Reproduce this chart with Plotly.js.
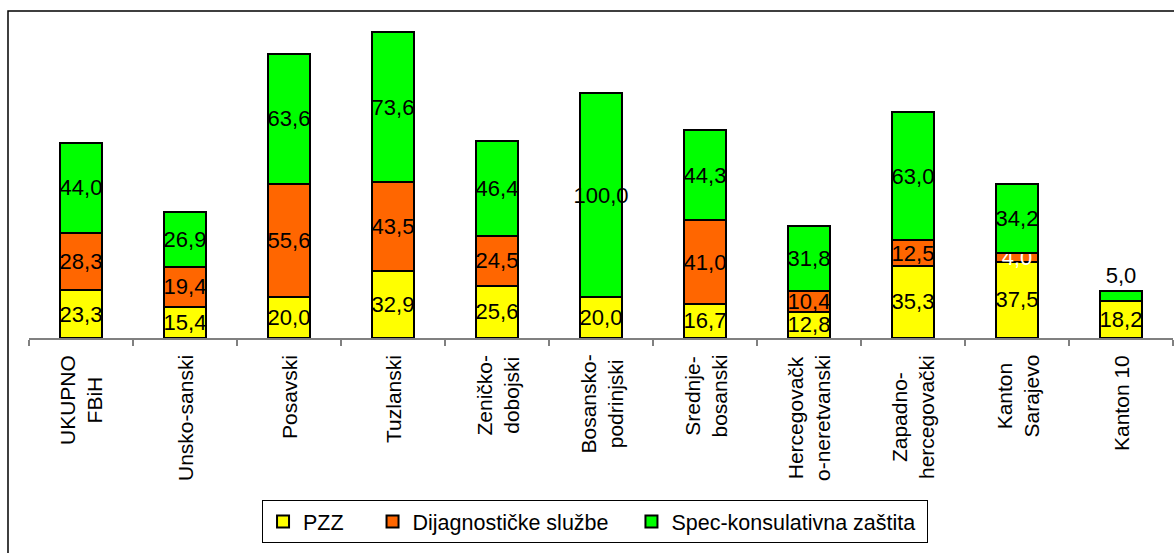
<!DOCTYPE html>
<html>
<head>
<meta charset="utf-8">
<script src="https://cdn.plot.ly/plotly-3.0.1.min.js"></script>
<style>
  html, body { margin: 0; padding: 0; background: #ffffff; }
  #chart { width: 1174px; height: 553px; }
</style>
</head>
<body>
<div id="chart"></div>
<script>
var categories = ['UKUPNO<br>FBiH', 'Unsko-sanski', 'Posavski', 'Tuzlanski', 'Zeničko-<br>dobojski',
  'Bosansko-<br>podrinjski', 'Srednje-<br>bosanski', 'Hercegovačk<br>o-neretvanski',
  'Zapadno-<br>hercegovački', 'Kanton<br>Sarajevo', 'Kanton 10'];
var pzz  = [23.3, 15.4, 20.0, 32.9, 25.6, 20.0, 16.7, 12.8, 35.3, 37.5, 18.2];
var dij  = [28.3, 19.4, 55.6, 43.5, 24.5, 0, 41.0, 10.4, 12.5, 4.0, 0];
var spec = [44.0, 26.9, 63.6, 73.6, 46.4, 100.0, 44.3, 31.8, 63.0, 34.2, 5.0];
var seriesNames = ['PZZ', 'Dijagnostičke službe', 'Spec-konsulativna zaštita'];

function fmt(v) { return v > 0 ? v.toFixed(1).replace('.', ',') : ''; }

var FONT = 'Arial, "Liberation Sans", sans-serif';
var NB = '\u00a0';
function mk(vals, name, color, positions, textColors) {
  return {
    type: 'bar', x: categories, y: vals, name: name,
    width: 0.41,
    marker: { color: color, line: { color: '#000000', width: 2 } },
    text: vals.map(fmt),
    textposition: positions || 'inside',
    insidetextanchor: 'middle',
    textangle: 0,
    constraintext: 'none',
    cliponaxis: false,
    textfont: { family: FONT, size: 22, color: textColors || '#000000' },
    hoverinfo: 'x+y'
  };
}

var specPos = spec.map(function (v, i) { return i === spec.length - 1 ? 'outside' : 'inside'; });
var dijColors = dij.map(function (v, i) { return i === 9 ? '#ffffff' : '#000000'; });

var data = [
  mk(pzz, seriesNames[0] + NB + NB + NB + NB, '#FFFF00'),
  mk(dij, seriesNames[1] + NB + NB + NB, '#FF6600', 'inside', dijColors),
  mk(spec, seriesNames[2] + NB, '#00FF00', specPos)
];

var labelAnnotations = categories.map(function (c) {
  return {
    x: c, xref: 'x', y: -15 / 327, yref: 'paper',
    text: c, textangle: -90, showarrow: false,
    xanchor: 'center', yanchor: 'top', align: 'center',
    font: { family: FONT, size: 21, color: '#000000' }
  };
});

var layout = {
  width: 1174, height: 553,
  margin: { l: 29, r: 1, t: 11, b: 215 },
  paper_bgcolor: '#ffffff', plot_bgcolor: '#ffffff',
  barmode: 'stack',
  font: { family: FONT, size: 20, color: '#000000' },
  xaxis: {
    type: 'category',
    tickson: 'boundaries',
    ticks: 'outside', ticklen: 6, tickwidth: 1.5, tickcolor: '#808080',
    showline: true, linecolor: '#808080', linewidth: 2,
    showgrid: false, zeroline: false,
    showticklabels: false,
    fixedrange: true
  },
  yaxis: { range: [0, 160.3], visible: false, fixedrange: true },
  showlegend: true,
  legend: {
    orientation: 'h',
    x: 0.2037, xanchor: 'left',
    y: -0.4954, yanchor: 'top',
    bordercolor: '#000000', borderwidth: 1,
    bgcolor: '#ffffff',
    font: { family: FONT, size: 21.5, color: '#000000' },
    traceorder: 'normal'
  },
  annotations: labelAnnotations,
  shapes: [{
    type: 'rect', xref: 'paper', yref: 'paper',
    x0: -0.01836, x1: 1.02, y0: -0.75, y1: 1.0,
    line: { color: '#000000', width: 1.5 }, fillcolor: 'rgba(0,0,0,0)', layer: 'above'
  }]
};

Plotly.newPlot('chart', data, layout, { displayModeBar: false, staticPlot: true });
</script>
</body>
</html>
